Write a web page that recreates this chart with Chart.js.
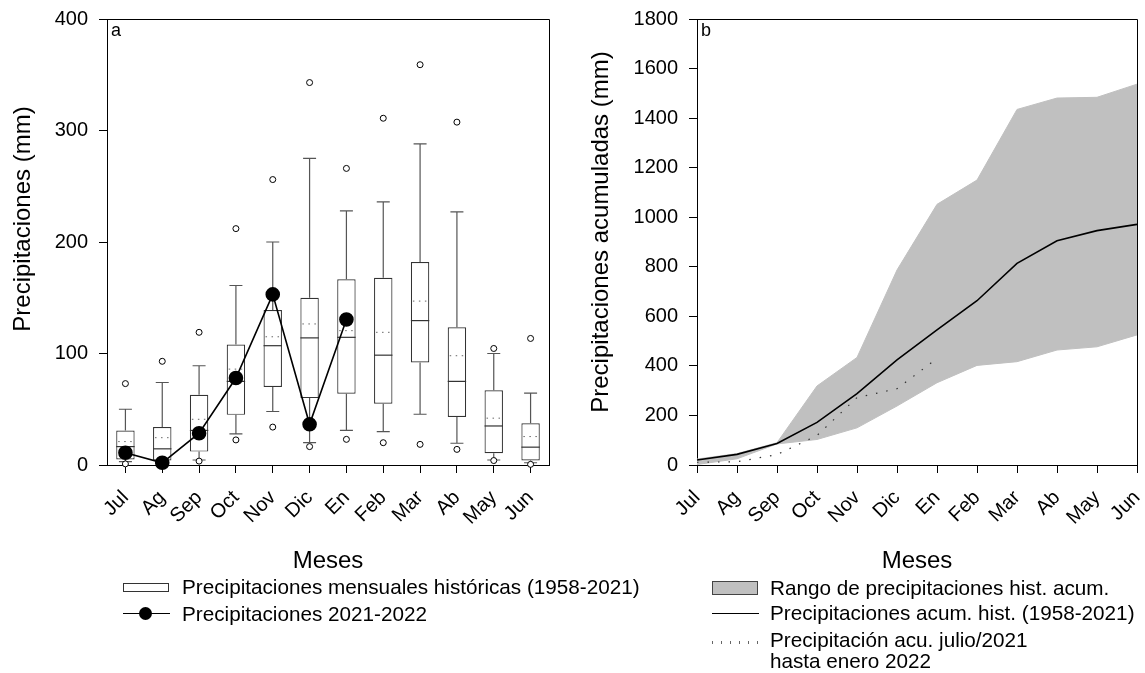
<!DOCTYPE html>
<html lang="es">
<head>
<meta charset="utf-8">
<title>Precipitaciones</title>
<script src="https://cdn.jsdelivr.net/npm/chart.js@4.4.1/dist/chart.umd.min.js"></script>
<style>
    body { margin: 0; background: #fff; font-family: "Liberation Sans", Arial, sans-serif; color: #000; }
    #page { position: relative; width: 1145px; height: 673px; overflow: hidden; }
    .panel { position: absolute; top: 0; height: 673px; }
    .leg-text { position: absolute; font-size: 20.7px; line-height: 24px; white-space: nowrap; }
    .leg-box { position: absolute; box-sizing: border-box; }
</style>
</head>
<body>
<div id="page">
    <div class="panel" style="left:0; width:570px;"><canvas id="chartA"></canvas></div>
    <div class="panel" style="left:570px; width:575px;"><canvas id="chartB"></canvas></div>

    <!-- legend a -->
    <div class="leg-box" style="left:123px; top:583px; width:46px; height:9px; border:1px solid #333; background:#fff;"></div>
    <div class="leg-text" style="left:182px; top:575px;">Precipitaciones mensuales históricas (1958-2021)</div>
    <div class="leg-box" style="left:123px; top:613px; width:47px; height:0; border-top:1.5px solid #000;"></div>
    <div class="leg-box" style="left:139px; top:607px; width:13px; height:13px; border-radius:50%; background:#000;"></div>
    <div class="leg-text" style="left:182px; top:602px;">Precipitaciones 2021-2022</div>

    <!-- legend b -->
    <div class="leg-box" style="left:712px; top:581px; width:46px; height:14px; border:1px solid #444; background:#c0c0c0;"></div>
    <div class="leg-text" style="left:770px; top:576px;">Rango de precipitaciones hist. acum.</div>
    <div class="leg-box" style="left:712px; top:613px; width:47px; height:0; border-top:1.5px solid #000;"></div>
    <div class="leg-text" style="left:770px; top:601px;">Precipitaciones acum. hist. (1958-2021)</div>
    <div class="leg-box" style="left:712px; top:641px; width:47px; height:3px; background:repeating-linear-gradient(90deg, #666 0 1px, transparent 1px 9px);"></div>
    <div class="leg-text" style="left:770px; top:630px; line-height:20.5px;">Precipitación acu. julio/2021<br>hasta enero 2022</div>
</div>

<script>
// Meses (julio a junio)
const months = ['Jul', 'Ag', 'Sep', 'Oct', 'Nov', 'Dic', 'En', 'Feb', 'Mar', 'Ab', 'May', 'Jun'];

// Panel a: box plot de precipitaciones mensuales 1958-2021 (mm)
const outLow   = [1, 0.5, 3.5, 22.5, 34, 16.5, 23, 20, 18.5, 14, 4, 0.6];
const whiskLow = [3, 1.5, 4.5, 28, 48, 20, 31, 30, 45.5, 19.5, 4.5, 2];
const q1       = [5, 4, 12, 45, 70, 60, 64, 55, 92, 43, 10.5, 4];
const median   = [16.5, 14.5, 31, 75, 107, 114, 114.5, 98.5, 129.5, 75, 35, 16];
const mean     = [21, 24.5, 41, 86, 115, 126.5, 120.5, 119, 147, 98, 42, 25.5];
const q3       = [31, 34, 63, 108, 139, 150, 166.5, 168, 182, 123.5, 67, 37.5];
const whiskHigh = [50, 74, 89, 161, 200, 275, 228, 236, 288, 227, 100, 64.5];
const outHigh  = [73, 93, 119, 212, 256, 343, 266, 311, 359, 307.5, 104.5, 113.5];

// Precipitaciones 2021-2022 (mm)
const precip2122 = [11, 2, 28.5, 78, 153, 36.5, 130.5, null, null, null, null, null];

// Panel b: precipitaciones acumuladas (mm)
const rangeLow  = [2, 25, 85, 103, 150, 238, 332, 402, 417, 464, 477, 525];
const rangeHigh = [24, 46, 90, 319, 434, 787, 1052, 1150, 1435, 1481, 1484, 1537];
const accMean   = [20, 43, 87, 172, 288, 424, 545, 663, 814, 905, 946, 971];
const acc2122   = [11, 13, 42, 119, 272, 308, 430, null, null, null, null, null];

// Tick labels
const ticksA = [0, 100, 200, 300, 400];
const ticksB = [0, 200, 400, 600, 800, 1000, 1200, 1400, 1600, 1800];

const FONT = '"Liberation Sans", Arial, sans-serif';

// frame, panel letter and rotated y title
const framePlugin = {
    id: 'frame',
    afterDraw(chart, args, opts) {
        const { ctx, chartArea: a } = chart;
        ctx.save();
        ctx.strokeStyle = '#000';
        ctx.lineWidth = 1;
        ctx.beginPath();
        ctx.moveTo(a.left, a.top + 0.5);
        ctx.lineTo(a.right + 0.5, a.top + 0.5);
        ctx.lineTo(a.right + 0.5, a.bottom);
        ctx.stroke();

        ctx.fillStyle = '#000';
        ctx.font = '18px ' + FONT;
        ctx.textBaseline = 'top';
        ctx.textAlign = 'left';
        ctx.fillText(opts.letter, a.left + 4, a.top + 3);

        ctx.translate(opts.titleX, opts.titleY);
        ctx.rotate(-Math.PI / 2);
        ctx.font = '24px ' + FONT;
        ctx.textAlign = 'center';
        ctx.textBaseline = 'middle';
        ctx.fillText(opts.yTitle, 0, 0);
        ctx.restore();
    }
};

// whiskers, median and mean on top of the box bars
const boxPlugin = {
    id: 'boxes',
    afterDatasetDraw(chart, args) {
        if (args.meta.type !== 'bar') return;
        const { ctx } = chart;
        const xs = chart.scales.x, ys = chart.scales.y;
        const bars = args.meta.data;
        ctx.save();
        months.forEach((m, i) => {
            const cx = xs.getPixelForValue(i);
            const half = bars[i].width / 2;
            const cap = 6.5;

            ctx.setLineDash([]);
            ctx.strokeStyle = '#555';
            ctx.lineWidth = 1.2;
            ctx.beginPath();
            ctx.moveTo(cx, ys.getPixelForValue(q3[i]));
            ctx.lineTo(cx, ys.getPixelForValue(whiskHigh[i]));
            ctx.moveTo(cx - cap, ys.getPixelForValue(whiskHigh[i]));
            ctx.lineTo(cx + cap, ys.getPixelForValue(whiskHigh[i]));
            ctx.moveTo(cx, ys.getPixelForValue(q1[i]));
            ctx.lineTo(cx, ys.getPixelForValue(whiskLow[i]));
            ctx.moveTo(cx - cap, ys.getPixelForValue(whiskLow[i]));
            ctx.lineTo(cx + cap, ys.getPixelForValue(whiskLow[i]));
            ctx.stroke();

            ctx.strokeStyle = '#333';
            ctx.beginPath();
            ctx.moveTo(cx - half, ys.getPixelForValue(median[i]));
            ctx.lineTo(cx + half, ys.getPixelForValue(median[i]));
            ctx.stroke();

            ctx.strokeStyle = '#666';
            ctx.lineWidth = 1;
            ctx.setLineDash([1.5, 4.5]);
            ctx.beginPath();
            ctx.moveTo(cx - half + 2, ys.getPixelForValue(mean[i]));
            ctx.lineTo(cx + half - 2, ys.getPixelForValue(mean[i]));
            ctx.stroke();
        });
        ctx.restore();
    }
};

function xAxis(offset) {
    return {
        type: 'category',
        labels: months,
        offset: offset,
        grid: { offset: false, drawOnChartArea: false, tickLength: 8, color: '#000' },
        border: { display: true, color: '#000', width: 1 },
        ticks: {
            autoSkip: false, minRotation: 45, maxRotation: 45, padding: 13,
            color: '#000', font: { family: FONT, size: 20 }
        },
        title: {
            display: true, text: 'Meses', color: '#000',
            font: { family: FONT, size: 24 }, padding: { top: 0, bottom: 97 }
        },
        afterFit(scale) {
            scale.height = 208;
            scale.paddingLeft = 0;
            scale.paddingRight = 0;
        }
    };
}

function yAxis(tickValues, width) {
    return {
        min: tickValues[0],
        max: tickValues[tickValues.length - 1],
        afterBuildTicks(scale) {
            scale.ticks = tickValues.map(v => ({ value: v }));
        },
        grid: { drawOnChartArea: false, tickLength: 8, color: '#000' },
        border: { display: true, color: '#000', width: 1 },
        ticks: {
            padding: 11, color: '#000', font: { family: FONT, size: 20 },
            callback: v => String(v)
        },
        afterFit(scale) {
            scale.width = width;
            scale.paddingTop = 0;
            scale.paddingBottom = 0;
        }
    };
}

// Panel a
new Chart(document.getElementById('chartA'), {
    type: 'bar',
    data: {
        labels: months,
        datasets: [
            {
                type: 'line',
                label: 'Precipitaciones 2021-2022',
                data: precip2122,
                borderColor: '#000',
                backgroundColor: '#000',
                borderWidth: 1.6,
                pointRadius: 6.5,
                pointBackgroundColor: '#000',
                spanGaps: false,
                clip: false,
                order: 0
            },
            {
                type: 'line',
                label: 'Percentiles 5/95',
                data: months.map((m, i) => ({ x: m, y: outHigh[i] }))
                    .concat(months.map((m, i) => ({ x: m, y: outLow[i] }))),
                showLine: false,
                pointRadius: 3,
                pointBorderWidth: 1,
                pointBorderColor: '#000',
                pointBackgroundColor: '#fff',
                clip: false,
                order: 1
            },
            {
                type: 'bar',
                label: 'Precipitaciones mensuales históricas (1958-2021)',
                data: months.map((m, i) => [q1[i], q3[i]]),
                backgroundColor: '#fff',
                borderColor: '#333',
                borderWidth: 1.2,
                borderSkipped: false,
                barPercentage: 0.5,
                categoryPercentage: 1,
                order: 2
            }
        ]
    },
    options: {
        responsive: true,
        maintainAspectRatio: false,
        animation: false,
        layout: { padding: { top: 19, right: 21, left: 0, bottom: 0 } },
        scales: { x: xAxis(true), y: yAxis(ticksA, 107) },
        plugins: {
            legend: { display: false },
            tooltip: { enabled: false },
            frame: { letter: 'a', yTitle: 'Precipitaciones (mm)', titleX: 23, titleY: 219 }
        }
    },
    plugins: [boxPlugin, framePlugin]
});

// Panel b
new Chart(document.getElementById('chartB'), {
    type: 'line',
    data: {
        labels: months,
        datasets: [
            {
                label: 'Rango de precipitaciones hist. acum.',
                data: rangeHigh,
                borderColor: '#c0c0c0',
                borderWidth: 1,
                backgroundColor: '#c0c0c0',
                pointRadius: 0,
                fill: '+1',
                order: 3
            },
            {
                label: 'Mínimo',
                data: rangeLow,
                borderColor: '#c0c0c0',
                borderWidth: 1,
                pointRadius: 0,
                fill: false,
                order: 2
            },
            {
                label: 'Precipitaciones acum. hist. (1958-2021)',
                data: accMean,
                borderColor: '#000',
                borderWidth: 1.6,
                pointRadius: 0,
                fill: false,
                order: 1
            },
            {
                label: 'Precipitación acu. julio/2021 hasta enero 2022',
                data: acc2122,
                borderColor: '#333',
                borderWidth: 1.2,
                borderDash: [1.5, 9],
                pointRadius: 0,
                fill: false,
                spanGaps: false,
                order: 0
            }
        ]
    },
    options: {
        responsive: true,
        maintainAspectRatio: false,
        animation: false,
        layout: { padding: { top: 19, right: 8, left: 0, bottom: 0 } },
        scales: { x: xAxis(false), y: yAxis(ticksB, 127) },
        plugins: {
            legend: { display: false },
            tooltip: { enabled: false },
            frame: { letter: 'b', yTitle: 'Precipitaciones acumuladas (mm)', titleX: 31, titleY: 232 }
        }
    },
    plugins: [framePlugin]
});
</script>
</body>
</html>
